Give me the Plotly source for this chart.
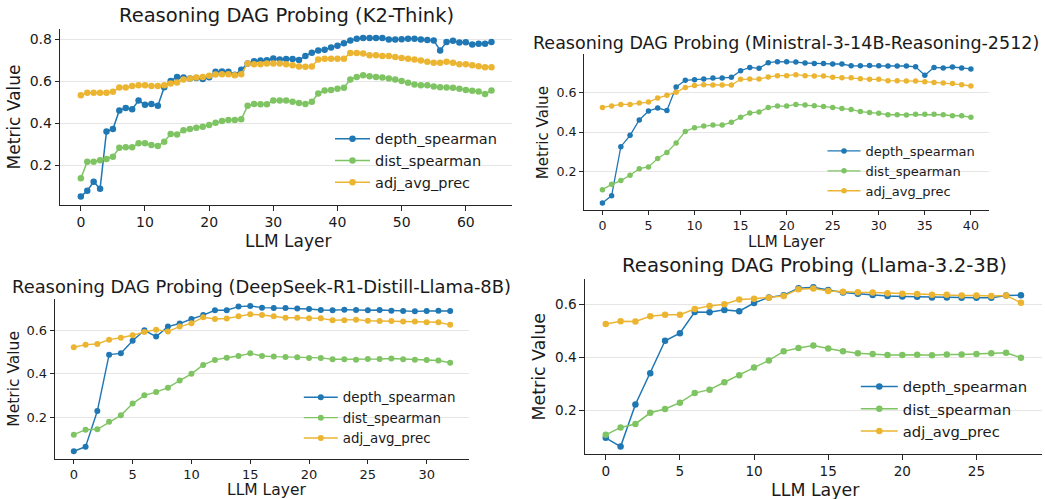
import plotly.graph_objects as go

W, H = 1045, 499

# ---------------- data ----------------
series_names = ["depth_spearman", "dist_spearman", "adj_avg_prec"]

k2_title = "Reasoning DAG Probing (K2-Think)"
k2_depth = [0.051, 0.079, 0.122, 0.089, 0.362, 0.373, 0.462, 0.474, 0.468, 0.509,
            0.489, 0.493, 0.484, 0.573, 0.603, 0.622, 0.619, 0.614, 0.617, 0.612,
            0.620, 0.646, 0.648, 0.646, 0.632, 0.656, 0.686, 0.697, 0.700, 0.701,
            0.710, 0.705, 0.707, 0.707, 0.702, 0.722, 0.737, 0.748, 0.752, 0.762,
            0.770, 0.782, 0.795, 0.804, 0.808, 0.807, 0.808, 0.807, 0.800, 0.800,
            0.801, 0.804, 0.804, 0.800, 0.798, 0.796, 0.748, 0.789, 0.794, 0.786,
            0.787, 0.776, 0.780, 0.780, 0.788]
k2_dist = [0.138, 0.217, 0.217, 0.225, 0.230, 0.241, 0.284, 0.286, 0.286, 0.305,
           0.305, 0.297, 0.292, 0.313, 0.350, 0.347, 0.368, 0.373, 0.380, 0.384,
           0.392, 0.403, 0.412, 0.416, 0.416, 0.420, 0.484, 0.493, 0.492, 0.492,
           0.509, 0.509, 0.509, 0.503, 0.497, 0.493, 0.503, 0.543, 0.557, 0.559,
           0.566, 0.570, 0.610, 0.622, 0.630, 0.625, 0.622, 0.619, 0.614, 0.610,
           0.603, 0.594, 0.586, 0.582, 0.582, 0.576, 0.573, 0.571, 0.570, 0.565,
           0.560, 0.556, 0.552, 0.540, 0.557]
k2_adj = [0.535, 0.546, 0.546, 0.546, 0.546, 0.551, 0.571, 0.571, 0.578, 0.582,
          0.582, 0.579, 0.579, 0.582, 0.590, 0.595, 0.610, 0.614, 0.619, 0.622,
          0.627, 0.633, 0.635, 0.635, 0.630, 0.635, 0.686, 0.682, 0.682, 0.686,
          0.686, 0.686, 0.682, 0.678, 0.671, 0.670, 0.671, 0.705, 0.709, 0.709,
          0.709, 0.709, 0.736, 0.736, 0.733, 0.725, 0.725, 0.722, 0.722, 0.717,
          0.712, 0.709, 0.705, 0.700, 0.694, 0.690, 0.690, 0.694, 0.689, 0.682,
          0.682, 0.678, 0.673, 0.668, 0.668]

mi_title = "Reasoning DAG Probing (Ministral-3-14B-Reasoning-2512)"
mi_depth = [0.042, 0.079, 0.326, 0.383, 0.461, 0.506, 0.521, 0.508, 0.627, 0.661,
            0.664, 0.667, 0.672, 0.672, 0.676, 0.709, 0.726, 0.721, 0.750, 0.755,
            0.755, 0.753, 0.748, 0.745, 0.745, 0.743, 0.743, 0.734, 0.734, 0.736,
            0.734, 0.733, 0.733, 0.733, 0.729, 0.686, 0.726, 0.723, 0.728, 0.723,
            0.718]
mi_dist = [0.109, 0.136, 0.155, 0.182, 0.215, 0.224, 0.266, 0.297, 0.345, 0.403,
           0.422, 0.430, 0.435, 0.435, 0.449, 0.474, 0.496, 0.501, 0.524, 0.531,
           0.531, 0.539, 0.536, 0.533, 0.529, 0.524, 0.518, 0.514, 0.503, 0.499,
           0.494, 0.487, 0.487, 0.486, 0.489, 0.489, 0.489, 0.487, 0.482, 0.482,
           0.474]
mi_adj = [0.524, 0.531, 0.539, 0.539, 0.546, 0.551, 0.571, 0.585, 0.600, 0.625,
          0.634, 0.639, 0.637, 0.637, 0.637, 0.666, 0.667, 0.667, 0.677, 0.684,
          0.684, 0.689, 0.684, 0.682, 0.682, 0.676, 0.674, 0.674, 0.669, 0.666,
          0.666, 0.659, 0.659, 0.657, 0.657, 0.654, 0.650, 0.647, 0.645, 0.639,
          0.632]

ds_title = "Reasoning DAG Probing (DeepSeek-R1-Distill-Llama-8B)"
ds_depth = [0.044, 0.065, 0.229, 0.488, 0.494, 0.552, 0.600, 0.571, 0.617, 0.631,
            0.652, 0.670, 0.692, 0.692, 0.709, 0.712, 0.704, 0.703, 0.703, 0.700,
            0.698, 0.693, 0.692, 0.695, 0.693, 0.692, 0.693, 0.690, 0.689, 0.687,
            0.689, 0.690, 0.689]
ds_dist = [0.120, 0.143, 0.145, 0.179, 0.209, 0.263, 0.301, 0.316, 0.336, 0.369,
           0.400, 0.441, 0.464, 0.474, 0.482, 0.494, 0.482, 0.479, 0.477, 0.476,
           0.473, 0.473, 0.467, 0.467, 0.465, 0.468, 0.468, 0.470, 0.467, 0.465,
           0.464, 0.461, 0.451]
ds_adj = [0.522, 0.534, 0.537, 0.557, 0.566, 0.577, 0.592, 0.603, 0.595, 0.617,
          0.632, 0.660, 0.652, 0.654, 0.664, 0.674, 0.670, 0.664, 0.658, 0.658,
          0.655, 0.655, 0.646, 0.646, 0.649, 0.644, 0.643, 0.643, 0.641, 0.640,
          0.637, 0.637, 0.625]

ll_title = "Reasoning DAG Probing (Llama-3.2-3B)"
ll_depth = [0.098, 0.065, 0.223, 0.341, 0.463, 0.491, 0.571, 0.570, 0.579, 0.574,
            0.605, 0.626, 0.634, 0.660, 0.664, 0.654, 0.644, 0.640, 0.635, 0.631,
            0.629, 0.628, 0.626, 0.626, 0.625, 0.625, 0.625, 0.633, 0.634]
ll_dist = [0.109, 0.137, 0.150, 0.192, 0.206, 0.230, 0.266, 0.279, 0.307, 0.333,
           0.362, 0.389, 0.423, 0.436, 0.445, 0.434, 0.423, 0.416, 0.413, 0.409,
           0.409, 0.410, 0.408, 0.411, 0.411, 0.413, 0.416, 0.418, 0.399]
ll_adj = [0.526, 0.536, 0.535, 0.555, 0.561, 0.561, 0.582, 0.594, 0.600, 0.618,
          0.621, 0.625, 0.631, 0.657, 0.659, 0.650, 0.647, 0.645, 0.644, 0.642,
          0.640, 0.639, 0.636, 0.636, 0.633, 0.633, 0.631, 0.633, 0.606]

x_label = "LLM Layer"
y_label = "Metric Value"

colors = ["#1f77b4", "#7fc463", "#ebb532"]
FONT = "DejaVu Sans"
TXT = "#1a1a1a"

# ---------------- layout per panel (pixel geometry) ----------------
panels = [
    dict(title=k2_title, data=[k2_depth, k2_dist, k2_adj],
         px=(60.3, 512), py=(29.3, 205), xr=(-3.2, 67.2), yr=(0.011, 0.849),
         xt=list(range(0, 61, 10)), yt=[0.2, 0.4, 0.6, 0.8],
         title_xy=(286.5, 15.8), title_fs=19.5,
         xl_xy=(288, 240.8), yl_xy=(13.7, 116.7), lab_fs=17, tick_fs=14,
         leg_xy=(330, 160.7), leg_fs=14.5, leg_iw=35,
         msize=6.5, lw=1.5, ticklen=4.5, xticklen=4.5),
    dict(title=mi_title, data=[mi_depth, mi_dist, mi_adj],
         px=(584, 989.3), py=(54.3, 210), xr=(-2, 42), yr=(0.0065, 0.792),
         xt=list(range(0, 41, 5)), yt=[0.2, 0.4, 0.6],
         title_xy=(785.8, 42.7), title_fs=17.5,
         xl_xy=(786.7, 241.7), yl_xy=(542.7, 132.5), lab_fs=15.1, tick_fs=12.6,
         leg_xy=(822.5, 171), leg_fs=13, leg_iw=33,
         msize=5.5, lw=1.3, ticklen=4, xticklen=4),
    dict(title=ds_title, data=[ds_depth, ds_dist, ds_adj],
         px=(55, 469), py=(299.3, 459), xr=(-1.6, 33.6), yr=(0.0083, 0.7425),
         xt=list(range(0, 31, 5)), yt=[0.2, 0.4, 0.6],
         title_xy=(261.7, 286.7), title_fs=17.9,
         xl_xy=(266, 489.8), yl_xy=(13.7, 379), lab_fs=15.5, tick_fs=13,
         leg_xy=(298.8, 418), leg_fs=13.4, leg_iw=34,
         msize=6, lw=1.4, ticklen=4.2, xticklen=3.5),
    dict(title=ll_title, data=[ll_depth, ll_dist, ll_adj],
         px=(585, 1041.7), py=(279.3, 454), xr=(-1.4, 29.4), yr=(0.037, 0.694),
         xt=list(range(0, 26, 5)), yt=[0.2, 0.4, 0.6],
         title_xy=(814, 265), title_fs=19.7,
         xl_xy=(815.8, 489.5), yl_xy=(538.8, 366.7), lab_fs=17.4, tick_fs=13.6,
         leg_xy=(855.8, 409), leg_fs=14.8, leg_iw=37,
         msize=6.5, lw=1.5, ticklen=4.5, xticklen=4.5),
]

fig = go.Figure()
annotations = []
layout = dict(
    width=W, height=H, margin=dict(l=0, r=0, t=0, b=0),
    paper_bgcolor="white", plot_bgcolor="white",
    font=dict(family=FONT, color=TXT),
)


def px2x(v):
    return v / W


def px2y(v):
    return 1 - v / H


for i, p in enumerate(panels):
    n = i + 1
    xa = "x" if n == 1 else f"x{n}"
    ya = "y" if n == 1 else f"y{n}"
    leg = "legend" if n == 1 else f"legend{n}"
    for name, vals, c in zip(series_names, p["data"], colors):
        fig.add_trace(go.Scatter(
            x=list(range(len(vals))), y=vals, name=name, mode="lines+markers",
            line=dict(color=c, width=p["lw"]),
            marker=dict(color=c, size=p["msize"]),
            xaxis=xa, yaxis=ya, legend=leg, showlegend=True,
        ))
    axis_common = dict(
        showline=True, linecolor="#262626", linewidth=1.1, mirror=False,
        ticks="outside", tickwidth=1.1, tickcolor="#262626",
        tickfont=dict(family=FONT, size=p["tick_fs"], color=TXT),
        zeroline=False,
    )
    layout["xaxis" if n == 1 else f"xaxis{n}"] = dict(
        axis_common, domain=[px2x(p["px"][0]), px2x(p["px"][1])],
        range=list(p["xr"]), tickmode="array", tickvals=p["xt"],
        ticktext=[str(t) for t in p["xt"]], showgrid=False,
        ticklen=p["xticklen"], anchor=ya,
    )
    layout["yaxis" if n == 1 else f"yaxis{n}"] = dict(
        axis_common, domain=[px2y(p["py"][1]), px2y(p["py"][0])],
        range=list(p["yr"]), tickmode="array", tickvals=p["yt"],
        ticktext=[f"{t:.1f}" for t in p["yt"]], showgrid=True,
        gridcolor="#e6e6e6", gridwidth=1, ticklen=p["ticklen"], anchor=xa,
    )
    layout[leg] = dict(
        x=px2x(p["leg_xy"][0]), y=px2y(p["leg_xy"][1]),
        xanchor="left", yanchor="middle", bgcolor="rgba(0,0,0,0)",
        borderwidth=0, font=dict(family=FONT, size=p["leg_fs"], color=TXT),
        itemwidth=p["leg_iw"],
    )
    annotations.append(dict(
        text=p["title"], x=px2x(p["title_xy"][0]), y=px2y(p["title_xy"][1]),
        xref="paper", yref="paper", xanchor="center", yanchor="middle",
        showarrow=False, font=dict(family=FONT, size=p["title_fs"], color=TXT),
    ))
    annotations.append(dict(
        text=x_label, x=px2x(p["xl_xy"][0]), y=px2y(p["xl_xy"][1]),
        xref="paper", yref="paper", xanchor="center", yanchor="middle",
        showarrow=False, font=dict(family=FONT, size=p["lab_fs"], color=TXT),
    ))
    annotations.append(dict(
        text=y_label, x=px2x(p["yl_xy"][0]), y=px2y(p["yl_xy"][1]),
        xref="paper", yref="paper", xanchor="center", yanchor="middle",
        textangle=-90, showarrow=False,
        font=dict(family=FONT, size=p["lab_fs"], color=TXT),
    ))

layout["annotations"] = annotations
fig.update_layout(**layout)
fig.write_html("out.html")
